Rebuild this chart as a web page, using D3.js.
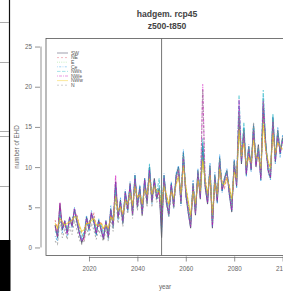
<!DOCTYPE html>
<html>
<head>
<meta charset="utf-8">
<script src="https://cdn.jsdelivr.net/npm/d3@7"></script>
<style>
  body { margin: 0; background: #fff; }
  svg { display: block; font-family: "Liberation Sans", Arial, sans-serif; }
</style>
</head>
<body>
<div id="chart"></div>
<script>
// years 2006..2100
const years = d3.range(2006, 2101);
const seriesNames = ["SW", "NE", "E", "Ce", "NWs", "NWe", "NWw", "N"];
const xTicks = [2020, 2040, 2060, 2080, 2100];
const yTicks = [0, 5, 10, 15, 20, 25];

const SW = [2.8,1.2,5.5,2.2,3.3,1.8,3.8,2.6,4.8,3.2, 1.8,0.6,1.4,3.8,2.2,4.3,3.2,1.6,3.4,2.2, 1.0,3.3,1.2,4.8,2.6,8.2,3.6,5.9,3.0,7.0, 4.6,8.0,4.0,9.0,5.0,7.6,4.0,8.6,5.4,10.0, 5.6,8.6,6.0,7.4,1.2,9.0,5.6,4.0,8.0,5.0, 9.0,10.0,5.4,11.8,6.6,4.4,2.4,8.0,4.0,9.6, 6.0,12.8,7.6,5.4,10.2,2.4,9.0,5.6,11.2,7.0, 8.6,9.6,6.6,4.4,10.8,7.6,16.4,10.4,14.8,9.0, 12.6,9.6,15.2,10.0,12.8,8.4,17.6,13.2,9.6,8.6, 16.2,10.6,14.6,11.6,13.6];
const NE = [3.4,2.2,4.2,3.0,2.6,2.8,3.0,3.6,4.0,4.2, 2.6,1.8,1.0,3.0,3.2,3.6,4.2,2.6,2.6,3.2, 2.2,2.6,2.2,4.0,3.6,6.8,4.6,5.0,4.2,6.0, 5.6,7.0,5.2,8.0,6.2,6.4,5.2,7.4,6.6,9.0, 6.6,7.4,7.2,6.6,4.4,8.0,6.6,5.2,7.0,6.2, 8.0,9.0,6.6,10.4,7.6,5.6,3.8,7.0,5.2,8.4, 7.0,11.4,8.6,6.6,9.0,3.8,8.0,6.6,10.0,8.2, 7.4,8.6,7.6,5.8,9.4,8.6,15.8,11.6,13.4,10.2, 11.4,10.6,14.0,11.2,11.4,9.6,16.8,12.0,10.6,9.8, 14.8,11.6,13.2,12.6,12.4];
const E = [2.2,2.0,3.2,2.6,2.8,2.4,3.0,3.0,3.8,3.4, 2.4,1.6,1.8,2.8,2.6,3.4,3.2,2.4,2.8,2.6, 2.0,2.8,2.0,3.8,3.2,6.6,4.2,5.2,3.8,6.0, 5.2,7.0,4.8,8.0,5.8,6.8,5.0,7.6,6.2,9.0, 6.4,7.8,6.8,7.4,5.0,8.0,6.2,5.0,7.2,5.8, 8.2,9.2,6.4,10.6,7.2,5.4,3.6,7.2,5.0,8.6, 6.8,11.2,8.2,6.4,9.2,3.6,8.2,6.4,10.2,7.8, 8.0,8.8,7.4,5.6,9.6,8.4,15.0,11.2,13.6,10.0, 11.6,10.4,13.8,11.0,11.8,9.4,16.0,12.6,10.4,9.6, 14.6,11.4,13.6,12.4,12.8];
const Ce = [1.4,0.8,4.6,1.8,3.4,1.4,3.8,2.4,5.0,3.0, 1.6,0.8,2.0,4.0,2.0,4.6,3.0,1.4,3.6,2.0, 1.2,3.4,1.0,5.2,2.4,8.0,3.4,6.2,3.0,7.2, 4.4,8.2,4.0,9.2,5.0,7.8,4.2,8.6,5.6,10.2, 5.4,8.4,6.0,7.6,2.0,9.2,5.4,3.8,8.2,4.8, 9.2,10.2,5.2,12.2,6.4,4.2,2.6,8.4,4.2,9.8, 6.2,13.0,7.4,5.6,10.6,2.6,9.4,5.4,11.6,6.8, 8.8,9.8,6.4,4.6,11.0,7.4,17.6,10.6,15.0,8.8, 12.8,9.4,15.4,10.2,12.4,8.2,18.8,12.8,9.4,8.4, 16.4,10.4,15.0,11.2,14.0];
const NWs = [2.0,1.6,4.4,2.8,3.0,2.4,3.2,3.4,4.4,3.8, 2.2,1.2,1.6,3.4,2.8,3.8,3.8,2.2,3.0,2.8, 1.6,3.0,1.8,4.4,3.2,7.2,4.4,5.4,3.6,6.6, 5.4,7.6,4.6,8.8,5.6,7.2,4.8,8.2,6.2,10.4, 6.2,8.2,6.8,8.6,4.0,8.8,6.2,4.4,7.6,5.6, 8.8,9.8,6.0,11.6,7.4,5.2,3.2,7.6,4.8,9.2, 6.8,13.6,8.2,6.2,9.8,3.4,8.8,6.2,11.0,7.6, 8.4,9.4,7.2,5.2,10.4,8.2,19.0,11.4,15.6,9.8, 12.4,10.2,15.0,10.8,12.2,9.2,19.6,13.0,10.2,9.2, 16.6,11.2,14.4,12.2,13.4];
const NWe = [2.6,1.4,5.6,2.4,3.2,1.6,3.6,2.8,4.8,3.4, 1.8,0.8,1.2,3.6,2.4,4.2,3.4,1.8,3.2,2.4, 1.2,3.2,1.4,4.6,2.8,9.0,3.8,5.6,3.2,6.8, 4.8,7.8,4.2,8.6,5.2,7.2,4.2,8.4,5.8,9.6, 5.8,8.2,6.2,7.0,2.8,8.6,5.8,4.2,7.8,5.2, 8.6,9.6,5.8,11.2,6.8,4.6,2.6,7.6,4.2,9.2, 6.2,20.3,7.8,5.6,9.6,2.6,8.6,5.8,10.6,7.2, 8.2,9.2,6.8,4.6,10.2,7.8,18.4,10.8,14.2,9.2, 12.2,9.8,14.6,10.2,12.0,8.6,18.2,12.4,9.8,8.8, 15.6,10.8,13.8,11.8,13.2];
const NWw = [3.0,2.4,3.6,3.2,2.8,3.0,3.2,3.4,3.8,3.8, 2.8,2.0,2.2,3.0,3.0,3.4,3.6,2.8,2.8,3.0, 2.4,2.8,2.4,3.8,3.4,6.4,4.6,5.0,4.2,5.8, 5.4,6.8,5.2,7.6,6.2,6.6,5.4,7.2,6.6,8.6, 6.6,7.6,7.0,7.0,5.2,7.6,6.6,5.4,7.0,6.2, 7.8,8.8,6.6,10.2,7.6,5.8,4.0,7.0,5.4,8.4, 7.0,10.8,8.4,6.6,9.0,4.0,8.0,6.6,9.8,8.0, 7.8,8.6,7.6,6.0,9.4,8.6,14.6,11.4,13.0,10.2, 11.2,10.6,13.4,11.2,11.2,9.8,15.4,12.2,10.8,9.8, 14.2,11.6,13.0,12.6,12.2];
const N = [0.8,0.4,3.6,1.2,2.2,1.0,2.6,1.6,3.4,2.2, 1.0,0.4,0.8,2.4,1.4,3.0,2.2,1.0,2.2,1.4, 0.8,2.2,0.8,3.6,2.0,6.6,3.0,4.8,2.6,5.8, 4.2,7.0,3.6,8.0,4.6,6.6,3.8,7.4,5.0,9.2, 5.0,7.6,5.6,6.6,3.2,8.2,5.4,3.8,7.2,4.8, 8.6,9.8,5.4,11.4,6.6,4.6,2.8,7.8,4.4,9.4, 6.6,19.6,8.0,6.0,9.8,3.2,8.8,6.2,11.0,7.4, 8.4,9.4,7.2,5.0,10.6,8.0,16.8,11.0,14.6,9.8, 12.6,10.0,15.6,10.6,12.6,9.0,18.4,12.8,10.0,9.2, 15.8,11.2,14.6,12.2,13.8];

const values = [SW, NE, E, Ce, NWs, NWe, NWw, N];
// R 4 default palette and lty 1..6,1,2
const colors = ["#1a1a3a", "#DF536B", "#61D04F", "#2297E6", "#28B8C5", "#CD0BBC", "#F5C710", "#8E8E8E"];
const dashes = [null, "2,2", "0.8,1.4", "0.8,1.4,2,1.4", "3.5,1.5", "1,1,3,1", null, "2,2"];

const width = 283, height = 291;
const svg = d3.select("#chart").append("svg")
    .attr("width", width)
    .attr("height", height);

// strip of the neighbouring panel on the left
const strip = svg.append("g");
strip.append("line").attr("x1", 9.5).attr("x2", 9.5).attr("y1", 0).attr("y2", 240)
    .attr("stroke", "#111").attr("stroke-width", 1.2);
[22, 62, 131, 136, 186].forEach(y => {
    strip.append("line").attr("x1", 0).attr("x2", 9).attr("y1", y + 0.5).attr("y2", y + 0.5)
        .attr("stroke", "#888").attr("stroke-width", 0.7);
});
strip.append("rect").attr("x", 0).attr("y", 240).attr("width", 10.5).attr("height", 51).attr("fill", "#000");

const x = d3.scaleLinear().domain([2002.24, 2103.76]).range([46, 291.7]);
const y = d3.scaleLinear().domain([-1, 26]).range([255.5, 38.5]);

// series
const line = d3.line().x((d, i) => x(years[i])).y(d => y(d));
svg.append("g")
    .selectAll("path")
    .data(values)
    .join("path")
    .attr("d", line)
    .attr("fill", "none")
    .attr("stroke", (d, i) => colors[i])
    .attr("stroke-width", 1.05)
    .attr("stroke-opacity", 0.7)
    .attr("stroke-dasharray", (d, i) => dashes[i]);

// box
svg.append("rect")
    .attr("x", x.range()[0]).attr("y", y.range()[1])
    .attr("width", x.range()[1] - x.range()[0])
    .attr("height", y.range()[0] - y.range()[1])
    .attr("fill", "none").attr("stroke", "#555").attr("stroke-width", 0.8);

// vertical line at 2050
svg.append("line")
    .attr("x1", x(2050)).attr("x2", x(2050))
    .attr("y1", y.range()[1]).attr("y2", y.range()[0])
    .attr("stroke", "#666").attr("stroke-width", 0.9);

// axes
svg.append("g")
    .attr("transform", `translate(${x.range()[0] - 6},0)`)
    .call(d3.axisLeft(y).tickValues(yTicks).tickSize(5).tickPadding(3))
    .call(g => g.select(".domain").attr("d", `M1,${y(0)}V${y(25)}`))
    .call(g => g.selectAll("line, path").attr("stroke", "#666").attr("stroke-width", 0.7))
    .call(g => g.selectAll("text").attr("fill", "#666").attr("font-size", 6.3)
        .attr("font-family", "'Liberation Sans', Arial, sans-serif"));

svg.append("g")
    .attr("transform", `translate(0,${y.range()[0] + 1})`)
    .call(d3.axisBottom(x).tickValues(xTicks).tickFormat(d3.format("d")).tickSize(5).tickPadding(5))
    .call(g => g.select(".domain").attr("d", `M${x(2020)},1H${x(2103.76)}`))
    .call(g => g.selectAll("line, path").attr("stroke", "#666").attr("stroke-width", 0.7))
    .call(g => g.selectAll("text").attr("fill", "#666").attr("font-size", 6.3)
        .attr("font-family", "'Liberation Sans', Arial, sans-serif"));

// legend
const legend = svg.append("g").attr("transform", "translate(57,53)");
seriesNames.forEach((name, i) => {
    const row = legend.append("g").attr("transform", `translate(0,${i * 4.6})`);
    row.append("line").attr("x1", 0).attr("x2", 11).attr("y1", 0).attr("y2", 0)
        .attr("stroke", colors[i]).attr("stroke-width", 0.7).attr("stroke-opacity", 0.6)
        .attr("stroke-dasharray", dashes[i]);
    row.append("text").attr("x", 14).attr("y", 1.8).text(name)
        .attr("font-size", 5).attr("fill", "#555");
});

// titles
svg.append("text").attr("x", 167).attr("y", 17).attr("text-anchor", "middle")
    .attr("font-size", 8.6).attr("font-weight", "bold").attr("fill", "#444").text("hadgem. rcp45");
svg.append("text").attr("x", 167).attr("y", 29).attr("text-anchor", "middle")
    .attr("font-size", 8.6).attr("font-weight", "bold").attr("fill", "#444").text("z500-t850");

svg.append("text").attr("transform", `translate(19,147) rotate(-90)`).attr("text-anchor", "middle")
    .attr("font-size", 6.3).attr("fill", "#666").text("number of EHD");
svg.append("text").attr("x", 165).attr("y", 289).attr("text-anchor", "middle")
    .attr("font-size", 6.3).attr("fill", "#666").text("year");
</script>
</body>
</html>
